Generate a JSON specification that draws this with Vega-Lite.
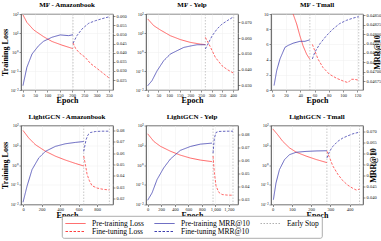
{
"$schema":"https://vega.github.io/schema/vega-lite/v6.json",
"padding":{"left":0,"top":0,"right":0,"bottom":0},
"spacing":6.5,
"data":{"values":[
{"p":1,"s":"Early Stop","e":204,"v":0},{"p":1,"s":"Early Stop","e":352,"v":0},
{"p":2,"s":"Early Stop","e":270,"v":0},{"p":2,"s":"Early Stop","e":403,"v":0},
{"p":3,"s":"Early Stop","e":53.5,"v":0},{"p":3,"s":"Early Stop","e":122,"v":0},
{"p":4,"s":"Early Stop","e":655,"v":0},{"p":4,"s":"Early Stop","e":932,"v":0},
{"p":5,"s":"Early Stop","e":966,"v":0},{"p":5,"s":"Early Stop","e":1261,"v":0},
{"p":6,"s":"Early Stop","e":282,"v":0},{"p":6,"s":"Early Stop","e":452,"v":0},

{"p":1,"s":"Pre-training Loss","e":0,"v":90},{"p":1,"s":"Pre-training Loss","e":16,"v":36},{"p":1,"s":"Pre-training Loss","e":44,"v":14.4},{"p":1,"s":"Pre-training Loss","e":84,"v":6.4},{"p":1,"s":"Pre-training Loss","e":118,"v":3.6},{"p":1,"s":"Pre-training Loss","e":159,"v":2.3},{"p":1,"s":"Pre-training Loss","e":204,"v":1.5},
{"p":1,"s":"Fine-tuning Loss","e":204,"v":3.0},{"p":1,"s":"Fine-tuning Loss","e":215,"v":1.5},{"p":1,"s":"Fine-tuning Loss","e":230,"v":0.9},{"p":1,"s":"Fine-tuning Loss","e":254,"v":0.52},{"p":1,"s":"Fine-tuning Loss","e":275,"v":0.25},{"p":1,"s":"Fine-tuning Loss","e":295,"v":0.16},{"p":1,"s":"Fine-tuning Loss","e":322,"v":0.085},{"p":1,"s":"Fine-tuning Loss","e":352,"v":0.042},
{"p":1,"s":"Pre-training MRR@10","e":0,"v":0.0219},{"p":1,"s":"Pre-training MRR@10","e":16,"v":0.032},{"p":1,"s":"Pre-training MRR@10","e":37,"v":0.0393},{"p":1,"s":"Pre-training MRR@10","e":64,"v":0.0439},{"p":1,"s":"Pre-training MRR@10","e":84,"v":0.0463},{"p":1,"s":"Pre-training MRR@10","e":118,"v":0.0485},{"p":1,"s":"Pre-training MRR@10","e":152,"v":0.0498},{"p":1,"s":"Pre-training MRR@10","e":186,"v":0.0494},{"p":1,"s":"Pre-training MRR@10","e":204,"v":0.0499},
{"p":1,"s":"Fine-tuning MRR@10","e":204,"v":0.0452},{"p":1,"s":"Fine-tuning MRR@10","e":220,"v":0.0494},{"p":1,"s":"Fine-tuning MRR@10","e":241,"v":0.0531},{"p":1,"s":"Fine-tuning MRR@10","e":268,"v":0.0562},{"p":1,"s":"Fine-tuning MRR@10","e":295,"v":0.0576},{"p":1,"s":"Fine-tuning MRR@10","e":322,"v":0.0587},{"p":1,"s":"Fine-tuning MRR@10","e":352,"v":0.0598},

{"p":2,"s":"Pre-training Loss","e":0,"v":55},{"p":2,"s":"Pre-training Loss","e":28,"v":24.5},{"p":2,"s":"Pre-training Loss","e":59,"v":14.5},{"p":2,"s":"Pre-training Loss","e":106,"v":7.2},{"p":2,"s":"Pre-training Loss","e":153,"v":4.5},{"p":2,"s":"Pre-training Loss","e":200,"v":3.2},{"p":2,"s":"Pre-training Loss","e":247,"v":2.6},{"p":2,"s":"Pre-training Loss","e":270,"v":2.45},
{"p":2,"s":"Fine-tuning Loss","e":270,"v":5.9},{"p":2,"s":"Fine-tuning Loss","e":282,"v":3.3},{"p":2,"s":"Fine-tuning Loss","e":294,"v":1.8},{"p":2,"s":"Fine-tuning Loss","e":317,"v":0.52},{"p":2,"s":"Fine-tuning Loss","e":348,"v":0.19},{"p":2,"s":"Fine-tuning Loss","e":372,"v":0.12},{"p":2,"s":"Fine-tuning Loss","e":403,"v":0.076},
{"p":2,"s":"Pre-training MRR@10","e":0,"v":0.0298},{"p":2,"s":"Pre-training MRR@10","e":20,"v":0.033},{"p":2,"s":"Pre-training MRR@10","e":44,"v":0.0393},{"p":2,"s":"Pre-training MRR@10","e":75,"v":0.0457},{"p":2,"s":"Pre-training MRR@10","e":106,"v":0.0499},{"p":2,"s":"Pre-training MRR@10","e":137,"v":0.052},{"p":2,"s":"Pre-training MRR@10","e":169,"v":0.0541},{"p":2,"s":"Pre-training MRR@10","e":200,"v":0.055},{"p":2,"s":"Pre-training MRR@10","e":231,"v":0.0558},{"p":2,"s":"Pre-training MRR@10","e":270,"v":0.0558},
{"p":2,"s":"Fine-tuning MRR@10","e":270,"v":0.0531},{"p":2,"s":"Fine-tuning MRR@10","e":286,"v":0.0573},{"p":2,"s":"Fine-tuning MRR@10","e":302,"v":0.0615},{"p":2,"s":"Fine-tuning MRR@10","e":325,"v":0.0658},{"p":2,"s":"Fine-tuning MRR@10","e":348,"v":0.0689},{"p":2,"s":"Fine-tuning MRR@10","e":372,"v":0.071},{"p":2,"s":"Fine-tuning MRR@10","e":403,"v":0.0736},

{"p":3,"s":"Pre-training Loss","e":3,"v":22},{"p":3,"s":"Pre-training Loss","e":15,"v":15.5},{"p":3,"s":"Pre-training Loss","e":25,"v":11.6},{"p":3,"s":"Pre-training Loss","e":30,"v":10.0},{"p":3,"s":"Pre-training Loss","e":35,"v":8.68},{"p":3,"s":"Pre-training Loss","e":39.5,"v":7.14},{"p":3,"s":"Pre-training Loss","e":44,"v":5.8},{"p":3,"s":"Pre-training Loss","e":49,"v":4.7},{"p":3,"s":"Pre-training Loss","e":53.5,"v":4.05},
{"p":3,"s":"Fine-tuning Loss","e":57,"v":6.0},{"p":3,"s":"Fine-tuning Loss","e":60.5,"v":5.15},{"p":3,"s":"Fine-tuning Loss","e":65,"v":4.05},{"p":3,"s":"Fine-tuning Loss","e":72,"v":2.95},{"p":3,"s":"Fine-tuning Loss","e":81,"v":2.07},{"p":3,"s":"Fine-tuning Loss","e":91,"v":1.54},{"p":3,"s":"Fine-tuning Loss","e":100,"v":1.19},{"p":3,"s":"Fine-tuning Loss","e":107,"v":0.97},{"p":3,"s":"Fine-tuning Loss","e":111.6,"v":1.41},{"p":3,"s":"Fine-tuning Loss","e":116,"v":1.41},{"p":3,"s":"Fine-tuning Loss","e":122,"v":1.28},
{"p":3,"s":"Pre-training MRR@10","e":3.3,"v":0.04663},{"p":3,"s":"Pre-training MRR@10","e":7,"v":0.04703},{"p":3,"s":"Pre-training MRR@10","e":11.6,"v":0.04734},{"p":3,"s":"Pre-training MRR@10","e":18.6,"v":0.04765},{"p":3,"s":"Pre-training MRR@10","e":23,"v":0.0477},{"p":3,"s":"Pre-training MRR@10","e":30,"v":0.04776},{"p":3,"s":"Pre-training MRR@10","e":39.5,"v":0.04781},{"p":3,"s":"Pre-training MRR@10","e":46.5,"v":0.04781},{"p":3,"s":"Pre-training MRR@10","e":53.5,"v":0.04785},
{"p":3,"s":"Fine-tuning MRR@10","e":57,"v":0.04734},{"p":3,"s":"Fine-tuning MRR@10","e":60.5,"v":0.04752},{"p":3,"s":"Fine-tuning MRR@10","e":67.4,"v":0.04774},{"p":3,"s":"Fine-tuning MRR@10","e":76.7,"v":0.04796},{"p":3,"s":"Fine-tuning MRR@10","e":86,"v":0.04814},{"p":3,"s":"Fine-tuning MRR@10","e":95,"v":0.04828},{"p":3,"s":"Fine-tuning MRR@10","e":104.7,"v":0.04837},{"p":3,"s":"Fine-tuning MRR@10","e":114,"v":0.04843},{"p":3,"s":"Fine-tuning MRR@10","e":122,"v":0.04847},

{"p":4,"s":"Pre-training Loss","e":0,"v":56},{"p":4,"s":"Pre-training Loss","e":61,"v":23.4},{"p":4,"s":"Pre-training Loss","e":133,"v":10.7},{"p":4,"s":"Pre-training Loss","e":241,"v":5.0},{"p":4,"s":"Pre-training Loss","e":349,"v":2.8},{"p":4,"s":"Pre-training Loss","e":457,"v":1.78},{"p":4,"s":"Pre-training Loss","e":565,"v":1.2},{"p":4,"s":"Pre-training Loss","e":655,"v":0.89},
{"p":4,"s":"Fine-tuning Loss","e":655,"v":2.8},{"p":4,"s":"Fine-tuning Loss","e":673,"v":1.07},{"p":4,"s":"Fine-tuning Loss","e":691,"v":0.34},{"p":4,"s":"Fine-tuning Loss","e":716,"v":0.16},{"p":4,"s":"Fine-tuning Loss","e":745,"v":0.089},{"p":4,"s":"Fine-tuning Loss","e":799,"v":0.068},{"p":4,"s":"Fine-tuning Loss","e":853,"v":0.06},{"p":4,"s":"Fine-tuning Loss","e":932,"v":0.054},
{"p":4,"s":"Pre-training MRR@10","e":0,"v":0.0168},{"p":4,"s":"Pre-training MRR@10","e":43,"v":0.0309},{"p":4,"s":"Pre-training MRR@10","e":97,"v":0.0455},{"p":4,"s":"Pre-training MRR@10","e":169,"v":0.0557},{"p":4,"s":"Pre-training MRR@10","e":241,"v":0.0616},{"p":4,"s":"Pre-training MRR@10","e":349,"v":0.066},{"p":4,"s":"Pre-training MRR@10","e":457,"v":0.0683},{"p":4,"s":"Pre-training MRR@10","e":565,"v":0.0695},{"p":4,"s":"Pre-training MRR@10","e":655,"v":0.0703},
{"p":4,"s":"Fine-tuning MRR@10","e":655,"v":0.0616},{"p":4,"s":"Fine-tuning MRR@10","e":680,"v":0.0718},{"p":4,"s":"Fine-tuning MRR@10","e":701,"v":0.0762},{"p":4,"s":"Fine-tuning MRR@10","e":727,"v":0.0782},{"p":4,"s":"Fine-tuning MRR@10","e":781,"v":0.0791},{"p":4,"s":"Fine-tuning MRR@10","e":853,"v":0.0794},{"p":4,"s":"Fine-tuning MRR@10","e":932,"v":0.0794},

{"p":5,"s":"Pre-training Loss","e":0,"v":38},{"p":5,"s":"Pre-training Loss","e":89,"v":15.8},{"p":5,"s":"Pre-training Loss","e":187,"v":8.9},{"p":5,"s":"Pre-training Loss","e":335,"v":5.0},{"p":5,"s":"Pre-training Loss","e":483,"v":3.16},{"p":5,"s":"Pre-training Loss","e":631,"v":2.24},{"p":5,"s":"Pre-training Loss","e":778,"v":1.78},{"p":5,"s":"Pre-training Loss","e":951,"v":1.48},
{"p":5,"s":"Fine-tuning Loss","e":966,"v":2.8},{"p":5,"s":"Fine-tuning Loss","e":985,"v":0.42},{"p":5,"s":"Fine-tuning Loss","e":1010,"v":0.089},{"p":5,"s":"Fine-tuning Loss","e":1049,"v":0.042},{"p":5,"s":"Fine-tuning Loss","e":1099,"v":0.032},{"p":5,"s":"Fine-tuning Loss","e":1172,"v":0.030},{"p":5,"s":"Fine-tuning Loss","e":1261,"v":0.0295},
{"p":5,"s":"Pre-training MRR@10","e":0,"v":0.0295},{"p":5,"s":"Pre-training MRR@10","e":64,"v":0.0351},{"p":5,"s":"Pre-training MRR@10","e":138,"v":0.0454},{"p":5,"s":"Pre-training MRR@10","e":236,"v":0.0544},{"p":5,"s":"Pre-training MRR@10","e":335,"v":0.0613},{"p":5,"s":"Pre-training MRR@10","e":483,"v":0.068},{"p":5,"s":"Pre-training MRR@10","e":631,"v":0.071},{"p":5,"s":"Pre-training MRR@10","e":778,"v":0.0728},{"p":5,"s":"Pre-training MRR@10","e":951,"v":0.0736},
{"p":5,"s":"Fine-tuning MRR@10","e":966,"v":0.0659},{"p":5,"s":"Fine-tuning MRR@10","e":985,"v":0.0774},{"p":5,"s":"Fine-tuning MRR@10","e":1010,"v":0.0818},{"p":5,"s":"Fine-tuning MRR@10","e":1049,"v":0.0826},{"p":5,"s":"Fine-tuning MRR@10","e":1172,"v":0.0828},{"p":5,"s":"Fine-tuning MRR@10","e":1261,"v":0.0828},

{"p":6,"s":"Pre-training Loss","e":0,"v":67.6},{"p":6,"s":"Pre-training Loss","e":26,"v":33.9},{"p":6,"s":"Pre-training Loss","e":52,"v":15.8},{"p":6,"s":"Pre-training Loss","e":87,"v":7.4},{"p":6,"s":"Pre-training Loss","e":122,"v":4.47},{"p":6,"s":"Pre-training Loss","e":174,"v":2.82},{"p":6,"s":"Pre-training Loss","e":226,"v":1.9},{"p":6,"s":"Pre-training Loss","e":282,"v":1.32},
{"p":6,"s":"Fine-tuning Loss","e":282,"v":5.0},{"p":6,"s":"Fine-tuning Loss","e":296,"v":2.34},{"p":6,"s":"Fine-tuning Loss","e":313,"v":0.89},{"p":6,"s":"Fine-tuning Loss","e":339,"v":0.34},{"p":6,"s":"Fine-tuning Loss","e":365,"v":0.16},{"p":6,"s":"Fine-tuning Loss","e":391,"v":0.095},{"p":6,"s":"Fine-tuning Loss","e":417,"v":0.066},{"p":6,"s":"Fine-tuning Loss","e":435,"v":0.054},{"p":6,"s":"Fine-tuning Loss","e":452,"v":0.06},
{"p":6,"s":"Pre-training MRR@10","e":3.5,"v":0.0389},{"p":6,"s":"Pre-training MRR@10","e":17,"v":0.0465},{"p":6,"s":"Pre-training MRR@10","e":35,"v":0.0526},{"p":6,"s":"Pre-training MRR@10","e":61,"v":0.0571},{"p":6,"s":"Pre-training MRR@10","e":87,"v":0.0594},{"p":6,"s":"Pre-training MRR@10","e":122,"v":0.0605},{"p":6,"s":"Pre-training MRR@10","e":174,"v":0.0609},{"p":6,"s":"Pre-training MRR@10","e":226,"v":0.0611},{"p":6,"s":"Pre-training MRR@10","e":282,"v":0.0612},
{"p":6,"s":"Fine-tuning MRR@10","e":282,"v":0.0579},{"p":6,"s":"Fine-tuning MRR@10","e":296,"v":0.0609},{"p":6,"s":"Fine-tuning MRR@10","e":313,"v":0.0632},{"p":6,"s":"Fine-tuning MRR@10","e":339,"v":0.0655},{"p":6,"s":"Fine-tuning MRR@10","e":365,"v":0.067},{"p":6,"s":"Fine-tuning MRR@10","e":391,"v":0.068},{"p":6,"s":"Fine-tuning MRR@10","e":417,"v":0.0689},{"p":6,"s":"Fine-tuning MRR@10","e":452,"v":0.0697}
]},
"vconcat":[
{"bounds":"flush","spacing":33,"hconcat":[
 {"width":92,"height":76,"title":"MF - Amazonbook","resolve":{"scale":{"y":"independent"}},"layer":[
  {"transform":[{"filter":"datum.p==1 && datum.s=='Early Stop'"}],"mark":{"type":"rule","strokeWidth":0.7},
   "encoding":{"x":{"field":"e","type":"quantitative","scale":{"domain":[-8,367],"nice":false,"zero":false},"axis":{"title":"Epoch","values":[0,50,100,150,200,250,300,350]}},
   "color":{"field":"s","type":"nominal","scale":{"domain":["Pre-training Loss","Fine-tuning Loss","Pre-training MRR@10","Fine-tuning MRR@10","Early Stop"],"range":["#ff4040","#ff4040","#4040b0","#4040b0","#b0b0b0"]},"legend":{"orient":"none","legendX":41,"legendY":202,"columns":3,"title":null}},
   "strokeDash":{"field":"s","type":"nominal","scale":{"domain":["Pre-training Loss","Fine-tuning Loss","Pre-training MRR@10","Fine-tuning MRR@10","Early Stop"],"range":[[1,0],[2.5,1.5],[1,0],[2.5,1.5],[1.5,1.5]]},"legend":{"orient":"none","legendX":41,"legendY":202,"columns":3,"title":null}}}},
  {"transform":[{"filter":"datum.p==1 && indexof(datum.s,'Loss')>=0"}],"mark":{"type":"line","strokeWidth":0.8,"clip":true},
   "encoding":{"x":{"field":"e","type":"quantitative","scale":{"domain":[-8,367],"nice":false,"zero":false},"axis":{"title":"Epoch","values":[0,50,100,150,200,250,300,350]}},
   "y":{"field":"v","type":"quantitative","scale":{"type":"log","domain":[0.01,100],"nice":false},"axis":{"title":"Training Loss","grid":true,"values":[0.01,0.1,1,10,100],"labelExpr":"['10⁻²','10⁻¹','10⁰','10¹','10²'][round(log(datum.value)/LN10)+2]"}},
   "color":{"field":"s","type":"nominal"},"strokeDash":{"field":"s","type":"nominal"}}},
  {"transform":[{"filter":"datum.p==1 && indexof(datum.s,'MRR')>=0"}],"mark":{"type":"line","strokeWidth":0.8,"clip":true},
   "encoding":{"x":{"field":"e","type":"quantitative","scale":{"domain":[-8,367],"nice":false,"zero":false},"axis":{"title":"Epoch","values":[0,50,100,150,200,250,300,350]}},
   "y":{"field":"v","type":"quantitative","scale":{"domain":[0.0195,0.0613],"nice":false,"zero":false},"axis":{"orient":"right","title":null,"grid":false,"values":[0.025,0.03,0.035,0.04,0.045,0.05,0.055,0.06],"format":".3f"}},
   "color":{"field":"s","type":"nominal"},"strokeDash":{"field":"s","type":"nominal"}}}
 ]},
 {"width":92,"height":76,"title":"MF - Yelp","resolve":{"scale":{"y":"independent"}},"layer":[
  {"transform":[{"filter":"datum.p==2 && datum.s=='Early Stop'"}],"mark":{"type":"rule","strokeWidth":0.7},
   "encoding":{"x":{"field":"e","type":"quantitative","scale":{"domain":[-8,423],"nice":false,"zero":false},"axis":{"title":"Epoch","values":[0,50,100,150,200,250,300,350,400]}},
   "color":{"field":"s","type":"nominal"},"strokeDash":{"field":"s","type":"nominal"}}},
  {"transform":[{"filter":"datum.p==2 && indexof(datum.s,'Loss')>=0"}],"mark":{"type":"line","strokeWidth":0.8,"clip":true},
   "encoding":{"x":{"field":"e","type":"quantitative","scale":{"domain":[-8,423],"nice":false,"zero":false},"axis":{"title":"Epoch","values":[0,50,100,150,200,250,300,350,400]}},
   "y":{"field":"v","type":"quantitative","scale":{"type":"log","domain":[0.01,100],"nice":false},"axis":{"title":null,"grid":true,"values":[0.01,0.1,1,10,100],"labelExpr":"['10⁻²','10⁻¹','10⁰','10¹','10²'][round(log(datum.value)/LN10)+2]"}},
   "color":{"field":"s","type":"nominal"},"strokeDash":{"field":"s","type":"nominal"}}},
  {"transform":[{"filter":"datum.p==2 && indexof(datum.s,'MRR')>=0"}],"mark":{"type":"line","strokeWidth":0.8,"clip":true},
   "encoding":{"x":{"field":"e","type":"quantitative","scale":{"domain":[-8,423],"nice":false,"zero":false},"axis":{"title":"Epoch","values":[0,50,100,150,200,250,300,350,400]}},
   "y":{"field":"v","type":"quantitative","scale":{"domain":[0.0271,0.0753],"nice":false,"zero":false},"axis":{"orient":"right","title":null,"grid":false,"values":[0.03,0.04,0.05,0.06,0.07],"format":".3f"}},
   "color":{"field":"s","type":"nominal"},"strokeDash":{"field":"s","type":"nominal"}}}
 ]},
 {"width":92,"height":76,"title":"MF - Tmall","resolve":{"scale":{"y":"independent"}},"layer":[
  {"transform":[{"filter":"datum.p==3 && datum.s=='Early Stop'"}],"mark":{"type":"rule","strokeWidth":0.7},
   "encoding":{"x":{"field":"e","type":"quantitative","scale":{"domain":[-1,128],"nice":false,"zero":false},"axis":{"title":"Epoch","values":[0,20,40,60,80,100,120]}},
   "color":{"field":"s","type":"nominal"},"strokeDash":{"field":"s","type":"nominal"}}},
  {"transform":[{"filter":"datum.p==3 && indexof(datum.s,'Loss')>=0"}],"mark":{"type":"line","strokeWidth":0.8,"clip":true},
   "encoding":{"x":{"field":"e","type":"quantitative","scale":{"domain":[-1,128],"nice":false,"zero":false},"axis":{"title":"Epoch","values":[0,20,40,60,80,100,120]}},
   "y":{"field":"v","type":"quantitative","scale":{"domain":[0,10],"nice":false},"axis":{"title":null,"grid":true,"values":[0,2,4,6,8,10]}},
   "color":{"field":"s","type":"nominal"},"strokeDash":{"field":"s","type":"nominal"}}},
  {"transform":[{"filter":"datum.p==3 && indexof(datum.s,'MRR')>=0"}],"mark":{"type":"line","strokeWidth":0.8,"clip":true},
   "encoding":{"x":{"field":"e","type":"quantitative","scale":{"domain":[-1,128],"nice":false,"zero":false},"axis":{"title":"Epoch","values":[0,20,40,60,80,100,120]}},
   "y":{"field":"v","type":"quantitative","scale":{"domain":[0.04651,0.04854],"nice":false,"zero":false},"axis":{"orient":"right","title":"MRR@10","titleAngle":270,"grid":false,"values":[0.04675,0.047,0.04725,0.0475,0.04775,0.048,0.04825,0.0485],"format":".5f"}},
   "color":{"field":"s","type":"nominal"},"strokeDash":{"field":"s","type":"nominal"}}}
 ]}
]},
{"bounds":"flush","spacing":33,"hconcat":[
 {"width":92,"height":79,"title":"LightGCN - Amazonbook","resolve":{"scale":{"y":"independent"}},"layer":[
  {"transform":[{"filter":"datum.p==4 && datum.s=='Early Stop'"}],"mark":{"type":"rule","strokeWidth":0.7},
   "encoding":{"x":{"field":"e","type":"quantitative","scale":{"domain":[-22,971],"nice":false,"zero":false},"axis":{"title":"Epoch","values":[0,200,400,600,800]}},
   "color":{"field":"s","type":"nominal"},"strokeDash":{"field":"s","type":"nominal"}}},
  {"transform":[{"filter":"datum.p==4 && indexof(datum.s,'Loss')>=0"}],"mark":{"type":"line","strokeWidth":0.8,"clip":true},
   "encoding":{"x":{"field":"e","type":"quantitative","scale":{"domain":[-22,971],"nice":false,"zero":false},"axis":{"title":"Epoch","values":[0,200,400,600,800]}},
   "y":{"field":"v","type":"quantitative","scale":{"type":"log","domain":[0.01,100],"nice":false},"axis":{"title":"Training Loss","grid":true,"values":[0.01,0.1,1,10,100],"labelExpr":"['10⁻²','10⁻¹','10⁰','10¹','10²'][round(log(datum.value)/LN10)+2]"}},
   "color":{"field":"s","type":"nominal"},"strokeDash":{"field":"s","type":"nominal"}}},
  {"transform":[{"filter":"datum.p==4 && indexof(datum.s,'MRR')>=0"}],"mark":{"type":"line","strokeWidth":0.8,"clip":true},
   "encoding":{"x":{"field":"e","type":"quantitative","scale":{"domain":[-22,971],"nice":false,"zero":false},"axis":{"title":"Epoch","values":[0,200,400,600,800]}},
   "y":{"field":"v","type":"quantitative","scale":{"domain":[0.0148,0.0844],"nice":false,"zero":false},"axis":{"orient":"right","title":null,"grid":false,"values":[0.02,0.03,0.04,0.05,0.06,0.07,0.08],"format":".2f"}},
   "color":{"field":"s","type":"nominal"},"strokeDash":{"field":"s","type":"nominal"}}}
 ]},
 {"width":92,"height":79,"title":"LightGCN - Yelp","resolve":{"scale":{"y":"independent"}},"layer":[
  {"transform":[{"filter":"datum.p==5 && datum.s=='Early Stop'"}],"mark":{"type":"rule","strokeWidth":0.7},
   "encoding":{"x":{"field":"e","type":"quantitative","scale":{"domain":[-25,1335],"nice":false,"zero":false},"axis":{"title":"Epoch","values":[0,200,400,600,800,1000,1200]}},
   "color":{"field":"s","type":"nominal"},"strokeDash":{"field":"s","type":"nominal"}}},
  {"transform":[{"filter":"datum.p==5 && indexof(datum.s,'Loss')>=0"}],"mark":{"type":"line","strokeWidth":0.8,"clip":true},
   "encoding":{"x":{"field":"e","type":"quantitative","scale":{"domain":[-25,1335],"nice":false,"zero":false},"axis":{"title":"Epoch","values":[0,200,400,600,800,1000,1200]}},
   "y":{"field":"v","type":"quantitative","scale":{"type":"log","domain":[0.01,100],"nice":false},"axis":{"title":null,"grid":true,"values":[0.01,0.1,1,10,100],"labelExpr":"['10⁻²','10⁻¹','10⁰','10¹','10²'][round(log(datum.value)/LN10)+2]"}},
   "color":{"field":"s","type":"nominal"},"strokeDash":{"field":"s","type":"nominal"}}},
  {"transform":[{"filter":"datum.p==5 && indexof(datum.s,'MRR')>=0"}],"mark":{"type":"line","strokeWidth":0.8,"clip":true},
   "encoding":{"x":{"field":"e","type":"quantitative","scale":{"domain":[-25,1335],"nice":false,"zero":false},"axis":{"title":"Epoch","values":[0,200,400,600,800,1000,1200]}},
   "y":{"field":"v","type":"quantitative","scale":{"domain":[0.0262,0.0872],"nice":false,"zero":false},"axis":{"orient":"right","title":null,"grid":false,"values":[0.03,0.04,0.05,0.06,0.07,0.08],"format":".2f"}},
   "color":{"field":"s","type":"nominal"},"strokeDash":{"field":"s","type":"nominal"}}}
 ]},
 {"width":92,"height":79,"title":"LightGCN - Tmall","resolve":{"scale":{"y":"independent"}},"layer":[
  {"transform":[{"filter":"datum.p==6 && datum.s=='Early Stop'"}],"mark":{"type":"rule","strokeWidth":0.7},
   "encoding":{"x":{"field":"e","type":"quantitative","scale":{"domain":[-9,470],"nice":false,"zero":false},"axis":{"title":"Epoch","values":[0,100,200,300,400]}},
   "color":{"field":"s","type":"nominal"},"strokeDash":{"field":"s","type":"nominal"}}},
  {"transform":[{"filter":"datum.p==6 && indexof(datum.s,'Loss')>=0"}],"mark":{"type":"line","strokeWidth":0.8,"clip":true},
   "encoding":{"x":{"field":"e","type":"quantitative","scale":{"domain":[-9,470],"nice":false,"zero":false},"axis":{"title":"Epoch","values":[0,100,200,300,400]}},
   "y":{"field":"v","type":"quantitative","scale":{"type":"log","domain":[0.01,100],"nice":false},"axis":{"title":null,"grid":true,"values":[0.01,0.1,1,10,100],"labelExpr":"['10⁻²','10⁻¹','10⁰','10¹','10²'][round(log(datum.value)/LN10)+2]"}},
   "color":{"field":"s","type":"nominal"},"strokeDash":{"field":"s","type":"nominal"}}},
  {"transform":[{"filter":"datum.p==6 && indexof(datum.s,'MRR')>=0"}],"mark":{"type":"line","strokeWidth":0.8,"clip":true},
   "encoding":{"x":{"field":"e","type":"quantitative","scale":{"domain":[-9,470],"nice":false,"zero":false},"axis":{"title":"Epoch","values":[0,100,200,300,400]}},
   "y":{"field":"v","type":"quantitative","scale":{"domain":[0.0367,0.0727],"nice":false,"zero":false},"axis":{"orient":"right","title":"MRR@10","titleAngle":270,"grid":false,"values":[0.04,0.045,0.05,0.055,0.06,0.065,0.07],"format":".3f"}},
   "color":{"field":"s","type":"nominal"},"strokeDash":{"field":"s","type":"nominal"}}}
 ]}
]}
],
"config":{
 "font":"Liberation Serif",
 "view":{"stroke":"#222222","strokeWidth":0.8},
 "axis":{"labelFontSize":4.5,"titleFontSize":8,"titleFontWeight":"bold","titleColor":"black","labelColor":"#222222","tickSize":2,"tickWidth":0.5,"tickColor":"#222222","domain":false,"labelPadding":1,"titlePadding":1,"gridColor":"#eeeeee","gridWidth":0.5},
 "axisX":{"grid":true,"labelPadding":0,"titlePadding":0},
 "title":{"fontSize":7,"fontWeight":"bold","offset":3,"anchor":"middle","color":"black"},
 "legend":{"symbolType":"M-1,0H4","symbolSize":64,"symbolStrokeWidth":1,"labelFontSize":7.5,"labelFont":"Liberation Serif","labelColor":"black","strokeColor":"#999999","strokeWidth":0.8,"fillColor":"white","padding":3,"cornerRadius":2,"columnPadding":8,"rowPadding":0,"labelOffset":18,"labelLimit":200}
}
}
